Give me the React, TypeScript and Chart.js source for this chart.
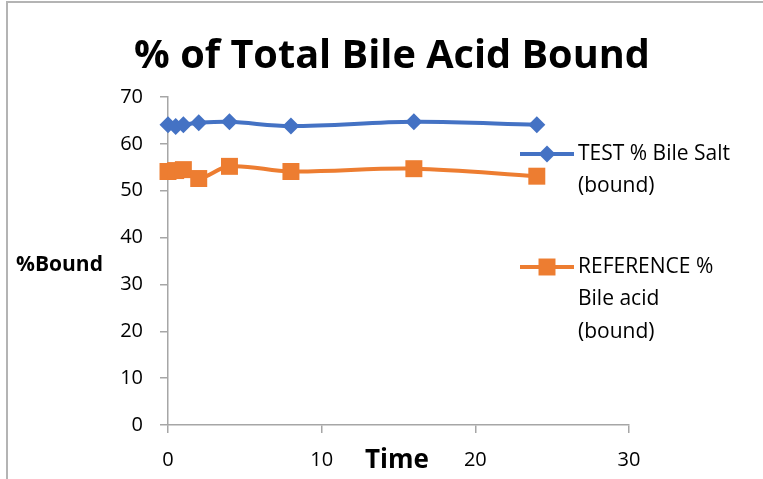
import React, { useEffect, useRef } from "react";
import { Chart, registerables } from "chart.js";

Chart.register(...registerables);

const times = [0, 0.5, 1, 2, 4, 8, 16, 24];
const testBound = [64.1, 63.7, 64.1, 64.5, 64.7, 63.8, 64.7, 64.1];
const referenceBound = [54.1, 54.3, 54.5, 52.6, 55.2, 54.1, 54.7, 53.1];
const seriesLabels = ["TEST % Bile Salt (bound)", "REFERENCE % Bile acid (bound)"];
const legendLines = [
  ["TEST % Bile Salt", "(bound)"],
  ["REFERENCE %", "Bile acid", "(bound)"],
];
const titleText = "% of Total Bile Acid Bound";
const xTitle = "Time";
const yTitle = "%Bound";

const BLUE = "#4472C4";
const ORANGE = "#ED7D31";
const AXIS = "#a6a6a6";
const FONT = '"Open Sans", "Noto Sans", sans-serif';
const TITLE_FONT = '"Liberation Sans Narrow", "Open Sans", sans-serif';

const overlay = {
  id: "overlay",
  afterDraw(chart: any) {
    const ctx = chart.ctx as CanvasRenderingContext2D;
    ctx.save();
    // frame
    ctx.strokeStyle = "#b4b4b4";
    ctx.lineWidth = 2;
    ctx.beginPath();
    ctx.moveTo(7, 479);
    ctx.lineTo(7, 2);
    ctx.lineTo(763, 2);
    ctx.stroke();

    // title, fitted to width
    ctx.fillStyle = "#000";
    ctx.font = `bold 40px ${TITLE_FONT}`;
    const w = ctx.measureText(titleText).width;
    const size = Math.min(46, (40 * 516) / w);
    ctx.font = `bold ${size}px ${TITLE_FONT}`;
    ctx.textAlign = "center";
    ctx.textBaseline = "alphabetic";
    ctx.fillText(titleText, 392, 68);

    // axis titles
    ctx.font = `bold 21px ${FONT}`;
    ctx.textAlign = "left";
    ctx.textBaseline = "middle";
    ctx.fillText(yTitle, 16, 265);
    ctx.font = `bold 26px ${FONT}`;
    ctx.textAlign = "center";
    ctx.fillText(xTitle, 397, 461);

    // legend
    const ys = [154, 267];
    chart.data.datasets.forEach((ds: any, i: number) => {
      const y = ys[i];
      ctx.strokeStyle = ds.borderColor;
      ctx.lineWidth = 4;
      ctx.beginPath();
      ctx.moveTo(520, y);
      ctx.lineTo(574, y);
      ctx.stroke();
      ctx.fillStyle = ds.pointBackgroundColor;
      ctx.beginPath();
      const r = ds.pointRadius;
      if (ds.pointStyle === "rectRot") {
        ctx.moveTo(547 - r, y);
        ctx.lineTo(547, y - r);
        ctx.lineTo(547 + r, y);
        ctx.lineTo(547, y + r);
        ctx.closePath();
      } else {
        const h = r * Math.SQRT1_2;
        ctx.rect(547 - h, y - h, 2 * h, 2 * h);
      }
      ctx.fill();
      ctx.fillStyle = "#000";
      ctx.font = `21px ${FONT}`;
      ctx.textAlign = "left";
      ctx.textBaseline = "middle";
      legendLines[i].forEach((t, j) => ctx.fillText(t, 578, y + j * 32.5));
    });
    ctx.restore();
  },
};

export default function App() {
  const ref = useRef<HTMLCanvasElement>(null);
  useEffect(() => {
    if (!ref.current) return;
    const chart = new Chart(ref.current, {
      type: "line",
      data: {
        datasets: [
          {
            label: seriesLabels[0],
            data: times.map((t, i) => ({ x: t, y: testBound[i] })),
            borderColor: BLUE,
            backgroundColor: BLUE,
            pointBackgroundColor: BLUE,
            pointBorderColor: BLUE,
            pointBorderWidth: 0,
            borderWidth: 4,
            pointStyle: "rectRot",
            pointRadius: 8.5,
            tension: 0.35,
            clip: false,
          } as any,
          {
            label: seriesLabels[1],
            data: times.map((t, i) => ({ x: t, y: referenceBound[i] })),
            borderColor: ORANGE,
            backgroundColor: ORANGE,
            pointBackgroundColor: ORANGE,
            pointBorderColor: ORANGE,
            pointBorderWidth: 0,
            borderWidth: 4,
            pointStyle: "rect",
            pointRadius: 12,
            tension: 0.35,
            clip: false,
          } as any,
        ],
      },
      options: {
        animation: false,
        responsive: false,
        layout: { padding: { left: 0, right: 134, top: 97, bottom: 0 } },
        plugins: {
          legend: { display: false },
          title: { display: false },
          tooltip: { enabled: false },
        },
        scales: {
          x: {
            type: "linear",
            min: 0,
            max: 30,
            ticks: {
              stepSize: 10,
              color: "#000",
              font: { family: FONT, size: 20 },
              padding: 15,
              maxRotation: 0,
            },
            grid: {
              display: true,
              drawOnChartArea: false,
              drawTicks: true,
              tickLength: 8,
              color: AXIS,
              lineWidth: 1.5,
            },
            border: { color: AXIS, width: 1.5 },
            afterFit: (s: any) => {
              s.height = 54;
            },
          },
          y: {
            type: "linear",
            min: 0,
            max: 70,
            ticks: {
              stepSize: 10,
              color: "#000",
              font: { family: FONT, size: 20 },
              padding: 17,
            },
            grid: {
              display: true,
              drawOnChartArea: false,
              drawTicks: true,
              tickLength: 8,
              color: AXIS,
              lineWidth: 1.5,
            },
            border: { color: AXIS, width: 1.5 },
            afterFit: (s: any) => {
              s.width = 168;
            },
          },
        },
      } as any,
      plugins: [overlay],
    });
    return () => chart.destroy();
  }, []);
  return (
    <div style={{ position: "fixed", left: 0, top: 0, width: 763, height: 479, background: "#fff" }}>
      <canvas ref={ref} width={763} height={479} style={{ display: "block" }} />
    </div>
  );
}
